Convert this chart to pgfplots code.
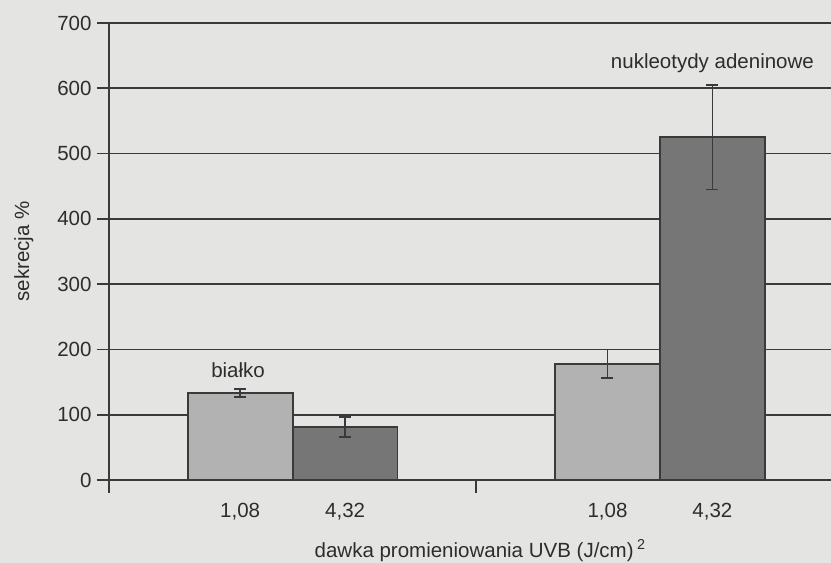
\documentclass[border=0pt]{standalone}
\usepackage{pgfplots}
\pgfplotsset{compat=1.18}
\usepackage{fontspec}
\setmainfont{Liberation Sans}
\definecolor{bg}{RGB}{228,228,226}
\definecolor{ln}{RGB}{58,58,58}
\definecolor{txt}{RGB}{45,45,45}
\definecolor{lightbar}{RGB}{178,178,178}
\definecolor{darkbar}{RGB}{118,118,118}
\begin{document}
\begin{tikzpicture}[font=\fontsize{20.5bp}{24bp}\selectfont, text=txt]
\useasboundingbox (0,0) rectangle (831bp,563bp);
\fill[bg] (0,0) rectangle (831bp,563bp);
\begin{axis}[
  at={(109bp,83bp)}, anchor=south west,
  scale only axis, width=722bp, height=457bp,
  xmin=-0.25, xmax=6.63, ymin=0, ymax=700,
  axis x line=bottom, axis y line=left,
  axis line style={-, draw=ln, line width=1.8bp},
  ytick={0,100,...,700},
  ymajorgrids, grid style={draw=ln, line width=1.8bp},
  tick align=outside, major tick length=12bp,
  tick style={draw=ln, line width=1.8bp},
  xtick={1,2,4.5,5.5},
  xticklabels={{1,08},{4,32},{1,08},{4,32}},
  x tick style={draw=none},
  extra x ticks={-0.25,3.25},
  extra x tick labels={},
  extra x tick style={major tick length=13bp, tick align=outside, grid=none, x tick style={draw=ln, line width=1.8bp}},
  /pgf/number format/assume math mode=true,
  tick label style={font=\fontsize{20.5bp}{24bp}\selectfont, text=txt},
  xticklabel style={yshift=-8bp},
  yticklabel style={xshift=-2bp},
  xlabel={dawka promieniowania UVB (J/cm)\,\textsuperscript{2}},
  xlabel style={at={(axis description cs:0.514,-0.154)}, anchor=center},
  ylabel={sekrecja \%},
  ylabel style={at={(axis description cs:-0.118,0.5)}, anchor=center, rotate=0},
  error bars/error bar style={line width=1.8bp, draw=ln},
  error bars/error mark options={rotate=90, mark size=6bp, line width=1.8bp, draw=ln},
]
\addplot[ybar, bar width=1, bar shift=0pt, fill=lightbar, draw=ln, line width=1.8bp,
  error bars/.cd, y dir=both, y explicit]
  coordinates {(1,133) +- (0,6) (4.5,178) +- (0,22)};
\addplot[ybar, bar width=1, bar shift=0pt, fill=darkbar, draw=ln, line width=1.8bp,
  error bars/.cd, y dir=both, y explicit]
  coordinates {(2,81) +- (0,15) (5.5,525) +- (0,80)};
\node at (axis cs:0.98,168) {białko};
\node at (axis cs:5.5,638) {nukleotydy adeninowe};
\end{axis}
\end{tikzpicture}
\end{document}
